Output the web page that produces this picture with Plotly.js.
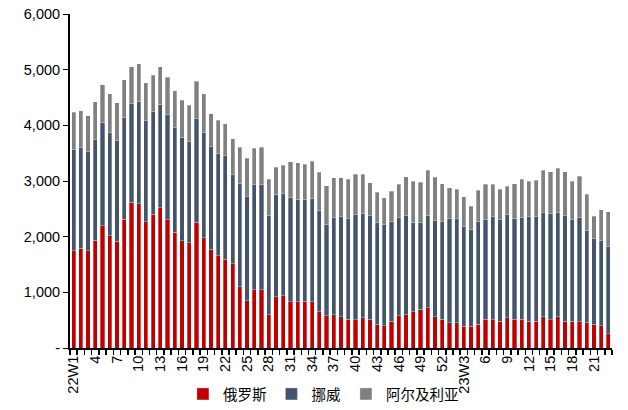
<!DOCTYPE html>
<html>
<head>
<meta charset="utf-8">
<script src="https://cdn.plot.ly/plotly-3.0.1.min.js"></script>
<style>html,body{margin:0;padding:0;background:#fff;}#chart{width:628px;height:410px;}</style>
</head>
<body>
<div id="chart"></div>
<script>
// Week categories: 2022 W1-W52, 2023 W1-W23
const weeks2022 = Array.from({length: 52}, (_, i) => "22W" + (i + 1));
const weeks2023 = Array.from({length: 23}, (_, i) => "23W" + (i + 1));
const categories = weeks2022.concat(weeks2023);

// Tick labels shown every 3 weeks
const tickLabels2022 = ["22W1","4","7","10","13","16","19","22","25","28","31","34","37","40","43","46","49","52"];
const tickLabels2023 = ["23W3","6","9","12","15","18","21"];

// Series values
const russia = [1750,1790,1750,1940,2200,2015,1915,2315,2615,2595,2270,2405,2520,2305,2075,1925,1890,2255,1985,1775,
  1655,1590,1510,1100,845,1045,1045,600,920,935,830,835,840,835,650,580,595,565,520,510,
  545,520,425,400,485,580,595,650,695,725,560,515,450,450,395,390,430,515,510,485,
  545,520,515,480,485,560,510,565,485,485,470,455,425,400,260];
const norway = [1810,1810,1780,1810,1855,1855,1805,1825,1775,1830,1815,1840,1855,1890,1885,1855,1815,1865,1890,1840,
  1835,1865,1615,1850,1870,1890,1890,1775,1840,1835,1865,1835,1825,1845,1815,1635,1745,1795,1800,1885,
  1865,1855,1830,1815,1790,1760,1780,1605,1555,1650,1725,1755,1870,1870,1785,1735,1840,1790,1850,1820,
  1850,1800,1825,1880,1875,1870,1900,1865,1890,1815,1870,1650,1535,1525,1560];
const algeria = [675,660,640,670,670,695,685,675,660,680,680,655,675,670,665,670,655,670,690,590,
  605,570,630,660,690,650,670,660,485,515,650,655,635,675,690,700,715,695,715,725,
  715,590,545,480,540,605,700,740,725,820,785,685,560,530,535,425,560,635,585,550,
  515,635,690,640,650,760,755,795,790,695,745,660,405,555,630];

const yTickVals = [0,1000,2000,3000,4000,5000,6000];
const yTickText = ["-","1,000","2,000","3,000","4,000","5,000","6,000"];

// Build tick text: label every 3rd week, blank otherwise
const tickText = categories.map(() => "");
const shownIdx2022 = [0,3,6,9,12,15,18,21,24,27,30,33,36,39,42,45,48,51];
shownIdx2022.forEach((k, j) => { tickText[k] = tickLabels2022[j]; });
const shownIdx2023 = [54,57,60,63,66,69,72];
shownIdx2023.forEach((k, j) => { tickText[k] = tickLabels2023[j]; });

const fontFam = "Arial, 'Liberation Sans', 'Noto Sans CJK SC', sans-serif";
const legFam = "'Noto Sans CJK SC', Arial, sans-serif";

const traces = [
  {type: "bar", name: "俄罗斯", x: categories, y: russia, marker: {color: "#C00000", line: {color: "#ffffff", width: 0.3}}},
  {type: "bar", name: "挪威", x: categories, y: norway, marker: {color: "#44546A", line: {color: "#ffffff", width: 0.3}}},
  {type: "bar", name: "阿尔及利亚", x: categories, y: algeria, marker: {color: "#808080", line: {color: "#ffffff", width: 0.3}}}
];

const layout = {
  width: 628, height: 410,
  margin: {l: 70, r: 16, t: 14, b: 62},
  barmode: "stack",
  bargap: 0.42,
  paper_bgcolor: "#ffffff",
  plot_bgcolor: "#ffffff",
  font: {family: fontFam, size: 14.5, color: "#000000"},
  showlegend: true,
  legend: {orientation: "h", traceorder: "normal", x: 0.515, xref: "container", xanchor: "center",
    y: 0, yref: "container", yanchor: "bottom", bgcolor: "rgba(0,0,0,0)",
    font: {family: legFam, size: 14.5, color: "#000"}, itemwidth: 30, tracegroupgap: 0},
  xaxis: {
    type: "category",
    automargin: false,
    tickmode: "array",
    tickvals: categories,
    ticktext: tickText,
    tickangle: -90,
    tickson: "boundaries",
    ticks: "outside",
    ticklen: 5,
    tickcolor: "#000",
    tickwidth: 1.5,
    showline: true,
    linecolor: "#000",
    linewidth: 2,
    showgrid: false,
    zeroline: false,
    tickfont: {family: fontFam, size: 14.5, color: "#000"}
  },
  yaxis: {
    automargin: false,
    range: [0, 6000],
    tickmode: "array",
    tickvals: yTickVals,
    ticktext: yTickText,
    ticks: "outside",
    ticklen: 5,
    tickcolor: "#000",
    showline: true,
    linecolor: "#000",
    linewidth: 2,
    showgrid: false,
    zeroline: false,
    tickfont: {family: fontFam, size: 14.5, color: "#000"}
  }
};

Plotly.newPlot("chart", traces, layout, {displayModeBar: false, staticPlot: true});
</script>
</body>
</html>
